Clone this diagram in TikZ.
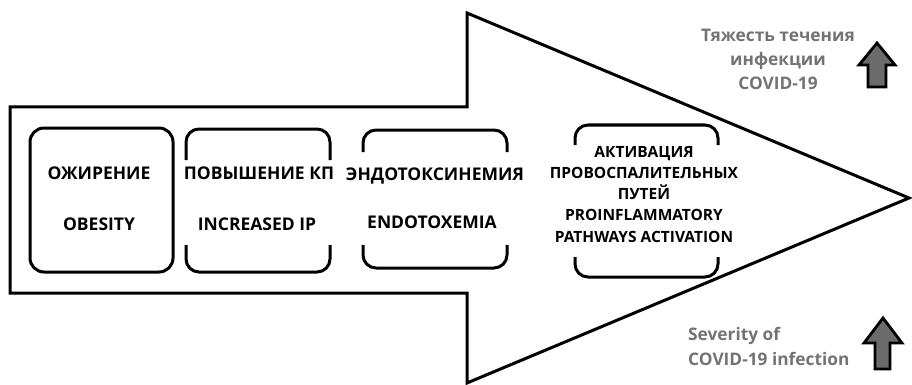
\documentclass[tikz,border=0pt]{standalone}
\usepackage{fontspec}
\setmainfont{Open Sans}
\begin{document}
\begin{tikzpicture}[x=1pt,y=-1pt,
  outline/.style={draw=black,line width=3pt,line join=miter},
  bracket/.style={draw=black,line width=3pt,rounded corners=13pt},
  lbl/.style={font=\bfseries\fontsize{17.5}{21}\selectfont,align=center,inner sep=0pt},
  slbl/.style={font=\bfseries\fontsize{15.5}{21}\selectfont,align=center,inner sep=0pt},
  glbl/.style={font=\bfseries\fontsize{17.3}{24}\selectfont,text=black!55,inner sep=0pt},
  uparrow/.style={draw=black,line width=2.8pt,fill=black!58,line join=miter}]
\useasboundingbox (0,0) rectangle (912,385);
% big arrow
\draw[outline] (10,107) -- (467,107) -- (467,13) -- (909,198) -- (467,383) -- (467,293) -- (10,293) -- cycle;
% box 1
\draw[outline,rounded corners=14pt] (30,128) rectangle (173,272);
% box 2
\draw[bracket] (186,160) -- (186,129) -- (330,129) -- (330,160);
\draw[bracket] (186,245) -- (186,272) -- (330,272) -- (330,245);
% box 3
\draw[bracket] (363,152) -- (363,130) -- (507,130) -- (507,152);
\draw[bracket] (363,245) -- (363,268) -- (507,268) -- (507,245);
% box 4
\draw[bracket] (575,145) -- (575,125) -- (718,125) -- (718,145);
\draw[bracket] (575,257) -- (575,277) -- (718,277) -- (718,257);
% texts
\node[lbl,anchor=base] (ru1) at (99,179) {ОЖИРЕНИЕ};
\node[lbl,anchor=base] (en1) at (99,230) {OBESITY};
\node[lbl,anchor=base] (ru2) at (259,179) {ПОВЫШЕНИЕ КП};
\node[lbl,anchor=base] (en2) at (257,230) {INCREASED IP};
\node[lbl,anchor=base] (ru3) at (435,180) {ЭНДОТОКСИНЕМИЯ};
\node[lbl,anchor=base] (en3) at (432,228) {ENDOTOXEMIA};
\node[slbl,anchor=base] (ru4a) at (644,157) {АКТИВАЦИЯ};
\node[slbl,anchor=base] (ru4b) at (644,178) {ПРОВОСПАЛИТЕЛЬНЫХ};
\node[slbl,anchor=base] (ru4c) at (644,199) {ПУТЕЙ};
\node[slbl,anchor=base] (en4a) at (644,220) {PROINFLAMMATORY};
\node[slbl,anchor=base] (en4b) at (644,242) {PATHWAYS ACTIVATION};
% severity texts
\node[glbl,anchor=base] (sevru1) at (778,42) {Тяжесть течения};
\node[glbl,anchor=base] (sevru2) at (778,66) {инфекции};
\node[glbl,anchor=base] (sevru3) at (778,90) {COVID-19};
\node[glbl,anchor=base west] (seven1) at (688,340) {Severity of};
\node[glbl,anchor=base west] (seven2) at (688,365) {COVID-19 infection};
% small up arrows
\draw[uparrow] (868,87) -- (868,65) -- (859,65) -- (877,43) -- (895,65) -- (886,65) -- (886,87) -- cycle;
\draw[uparrow] (875,369) -- (875,343) -- (864,343) -- (883,318) -- (902,343) -- (890,343) -- (890,369) -- cycle;
\end{tikzpicture}
\end{document}
